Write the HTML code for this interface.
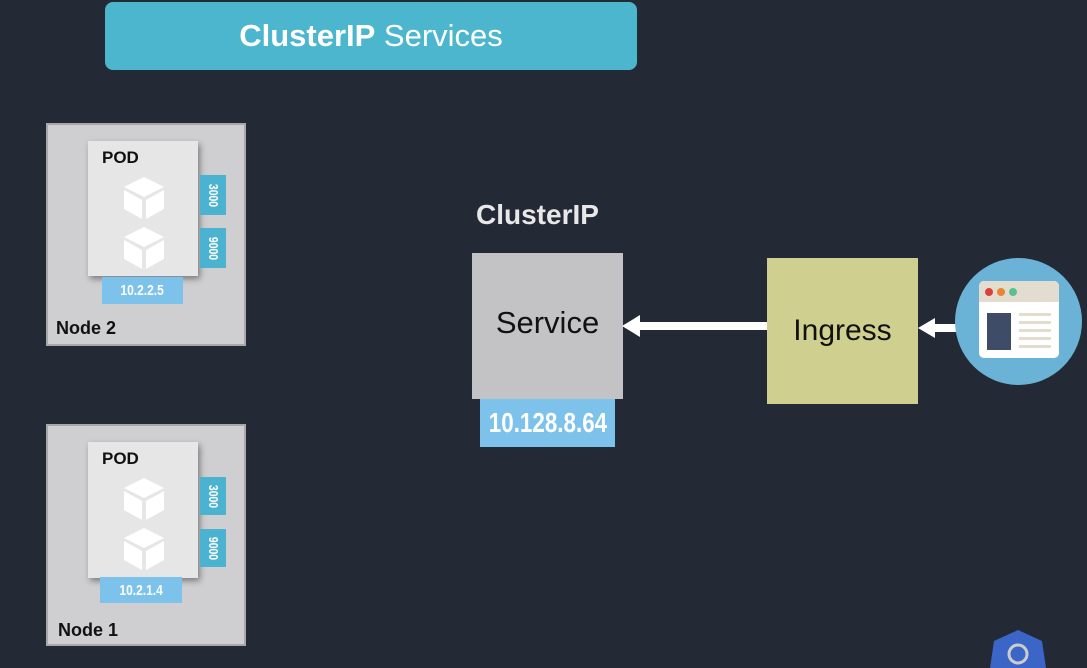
<!DOCTYPE html>
<html><head><style>
body{margin:0;width:1087px;height:660px;background:#232935;position:relative;overflow:hidden;font-family:"Liberation Sans",sans-serif}
.a{position:absolute}
.node{background:#cfcfd1;border:2px solid #a8a8a8;box-sizing:border-box}
.pod{background:#e6e6e6;box-shadow:2px 3px 6px rgba(0,0,0,.4)}
.tab{background:#4bb3d0;color:#fff;font-size:13px;font-weight:bold;display:flex;align-items:center;justify-content:center}
.tab span{transform:rotate(90deg) scaleX(.8);display:block}
.ip{background:#7cc2ea;color:#fff;font-weight:bold;display:flex;align-items:center;justify-content:center;font-size:15px}
.ip span{display:block;transform:scaleX(.8)}
.lbl{font-weight:bold;color:#111}
</style></head><body>
<div class="a" style="left:105px;top:2px;width:532px;height:68px;background:#4bb6cd;border-radius:8px;color:#fff;font-size:31px;display:flex;align-items:center;justify-content:center"><b>ClusterIP</b>&nbsp;Services</div>

<!-- Node 2 -->
<div class="a node" style="left:46px;top:123px;width:200px;height:223px"></div>
<div class="a pod" style="left:88px;top:141px;width:110px;height:135px"></div>
<div class="a lbl" style="left:102px;top:148px;font-size:17px">POD</div>
<svg class="a" style="left:122px;top:175px" width="44" height="96" viewBox="0 0 44 96">
<g fill="#fff"><path d="M2 12 L22 2 L42 12 L22 22Z"/><path d="M2 15 L20 25 L20 44 L2 34Z"/><path d="M24 25 L42 15 L42 34 L24 44Z"/>
<path d="M2 62 L22 52 L42 62 L22 72Z"/><path d="M2 65 L20 75 L20 94 L2 84Z"/><path d="M24 75 L42 65 L42 84 L24 94Z"/></g></svg>
<div class="a tab" style="left:200px;top:175px;width:26px;height:40px"><span>3000</span></div>
<div class="a tab" style="left:200px;top:228px;width:26px;height:40px"><span>9000</span></div>
<div class="a ip" style="left:102px;top:277px;width:81px;height:27px"><span>10.2.2.5</span></div>
<div class="a lbl" style="left:56px;top:318px;font-size:18px">Node 2</div>

<!-- Node 1 -->
<div class="a node" style="left:46px;top:424px;width:200px;height:222px"></div>
<div class="a pod" style="left:88px;top:442px;width:110px;height:136px"></div>
<div class="a lbl" style="left:102px;top:449px;font-size:17px">POD</div>
<svg class="a" style="left:122px;top:476px" width="44" height="96" viewBox="0 0 44 96">
<g fill="#fff"><path d="M2 12 L22 2 L42 12 L22 22Z"/><path d="M2 15 L20 25 L20 44 L2 34Z"/><path d="M24 25 L42 15 L42 34 L24 44Z"/>
<path d="M2 62 L22 52 L42 62 L22 72Z"/><path d="M2 65 L20 75 L20 94 L2 84Z"/><path d="M24 75 L42 65 L42 84 L24 94Z"/></g></svg>
<div class="a tab" style="left:200px;top:477px;width:26px;height:38px"><span>3000</span></div>
<div class="a tab" style="left:200px;top:529px;width:26px;height:38px"><span>9000</span></div>
<div class="a ip" style="left:100px;top:577px;width:82px;height:26px"><span>10.2.1.4</span></div>
<div class="a lbl" style="left:58px;top:620px;font-size:18px">Node 1</div>

<!-- Service -->
<div class="a" style="left:476px;top:199px;color:#e8e8e8;font-size:28px;font-weight:bold">ClusterIP</div>
<div class="a" style="left:472px;top:253px;width:151px;height:146px;background:#c3c3c5;display:flex;align-items:center;justify-content:center;font-size:31px;color:#111;padding-bottom:6px;box-sizing:border-box">Service</div>
<div class="a ip" style="left:480px;top:399px;width:135px;height:48px;font-size:28px"><span>10.128.8.64</span></div>

<!-- arrows -->
<div class="a" style="left:638px;top:322px;width:130px;height:8px;background:#fff"></div>
<svg class="a" style="left:622px;top:314px" width="20" height="24"><path d="M0 12 L18 1 L18 23Z" fill="#fff"/></svg>
<div class="a" style="left:932px;top:324px;width:28px;height:8px;background:#fff"></div>
<svg class="a" style="left:918px;top:317px" width="18" height="22"><path d="M0 11 L17 1 L17 21Z" fill="#fff"/></svg>

<!-- Ingress -->
<div class="a" style="left:767px;top:258px;width:151px;height:146px;background:#cfd08f;display:flex;align-items:center;justify-content:center;font-size:30px;color:#111">Ingress</div>

<!-- browser circle -->
<div class="a" style="left:955px;top:258px;width:127px;height:127px;border-radius:50%;background:#6bb3d6"></div>
<div class="a" style="left:979px;top:281px;width:80px;height:77px;background:#fff;border-radius:5px;overflow:hidden">
<div style="height:21px;background:#e2ddcf"></div></div>
<div class="a" style="left:985px;top:288px;width:8px;height:8px;border-radius:50%;background:#d9413b"></div>
<div class="a" style="left:997px;top:288px;width:8px;height:8px;border-radius:50%;background:#ea8532"></div>
<div class="a" style="left:1009px;top:288px;width:8px;height:8px;border-radius:50%;background:#5bc08e"></div>
<div class="a" style="left:987px;top:313px;width:24px;height:37px;background:#3e4c67"></div>
<div class="a" style="left:1019px;top:313px;width:32px;height:36px;background:repeating-linear-gradient(#e2ddcf 0 3px,#fff 3px 8px)"></div>

<!-- k8s logo -->
<svg class="a" style="left:990px;top:628px" width="56" height="40"><path d="M28 2 L52 13 L56 40 L0 40 L4 13Z" fill="#3b66c8"/><circle cx="28" cy="26" r="9" fill="none" stroke="#ccc" stroke-width="3"/></svg>
</body></html>
